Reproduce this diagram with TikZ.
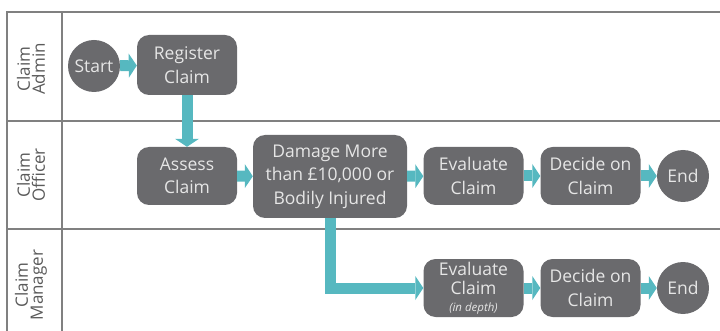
\documentclass[tikz,border=0pt]{standalone}
\usepackage{fontspec}
\setmainfont{Open Sans}
\usetikzlibrary{arrows.meta}

\definecolor{boxgrey}{HTML}{6A6A6D}
\definecolor{boxtext}{HTML}{E6E6E6}
\definecolor{flowteal}{HTML}{56B8C0}
\definecolor{lanegrey}{HTML}{808080}
\definecolor{labelgrey}{HTML}{5A5A5A}

\begin{document}
\begin{tikzpicture}[x=1pt, y=-1pt,
    box/.style={rectangle, rounded corners=12pt, fill=boxgrey, text=boxtext, align=center,
        inner sep=0pt, minimum width=100pt, minimum height=58pt,
        font=\fontsize{17.5}{23.5}\selectfont},
    term/.style={circle, fill=boxgrey, text=boxtext, inner sep=0pt, minimum size=52pt,
        font=\fontsize{17.5}{23.5}\selectfont},
    flow/.style={draw=flowteal, line width=11pt,
        -{Triangle[width=24pt, length=8pt, line width=0pt]}},
    lane/.style={draw=lanegrey, line width=2pt},
    lanelabel/.style={rotate=90, text=labelgrey, align=center,
        font=\fontsize{17}{15}\selectfont}]
    \useasboundingbox (0,0) rectangle (720,331);

    % swim lanes
    \draw[lane] (7,331) -- (7,12) -- (720,12);
    \draw[lane] (62,12) -- (62,331);
    \draw[lane] (7,121) -- (720,121);
    \draw[lane] (7,229) -- (720,229);

    \node[lanelabel] at (31, 69)  (admin)   {Claim\\Admin};
    \node[lanelabel] at (31, 175) (officer) {Claim\\Officer};
    \node[lanelabel] at (31, 285) (manager) {Claim\\Manager};

    % claim admin
    \node[term] at (94, 66)  (start)    {Start};
    \node[box, minimum height=60pt] at (187, 65) (register) {Register\\Claim};

    % claim officer
    \node[box] at (187, 176) (assess) {Assess\\Claim};
    \node[box, minimum width=154pt, minimum height=83pt] at (330, 176.5) (damage)
        {Damage More\\than £10,000 or\\Bodily Injured};
    \node[box] at (473.5, 176) (evaluate) {Evaluate\\Claim};
    \node[box] at (590.5, 176) (decide)   {Decide on\\Claim};
    \node[term] at (683, 176)  (end1)     {End};

    % claim manager
    \node[box, font=\fontsize{17.5}{19.5}\selectfont] at (473.5, 288) (evaluate2)
        {Evaluate\\Claim\\[-3pt]{\fontsize{11.5}{11.5}\selectfont\itshape (in depth)}};
    \node[box] at (590.5, 288) (decide2) {Decide on\\Claim};
    \node[term] at (683, 288)  (end2)    {End};

    \draw[flow] (start) -- (register);
    \draw[flow] (register) -- (assess);
    \draw[flow] (assess) -- (damage);
    \draw[flow] (damage) -- (evaluate);
    \draw[flow] (evaluate) -- (decide);
    \draw[flow] (decide) -- (end1);

    \draw[flow] (damage) |- (evaluate2);
    \draw[flow] (evaluate2) -- (decide2);
    \draw[flow] (decide2) -- (end2);

\end{tikzpicture}
\end{document}
